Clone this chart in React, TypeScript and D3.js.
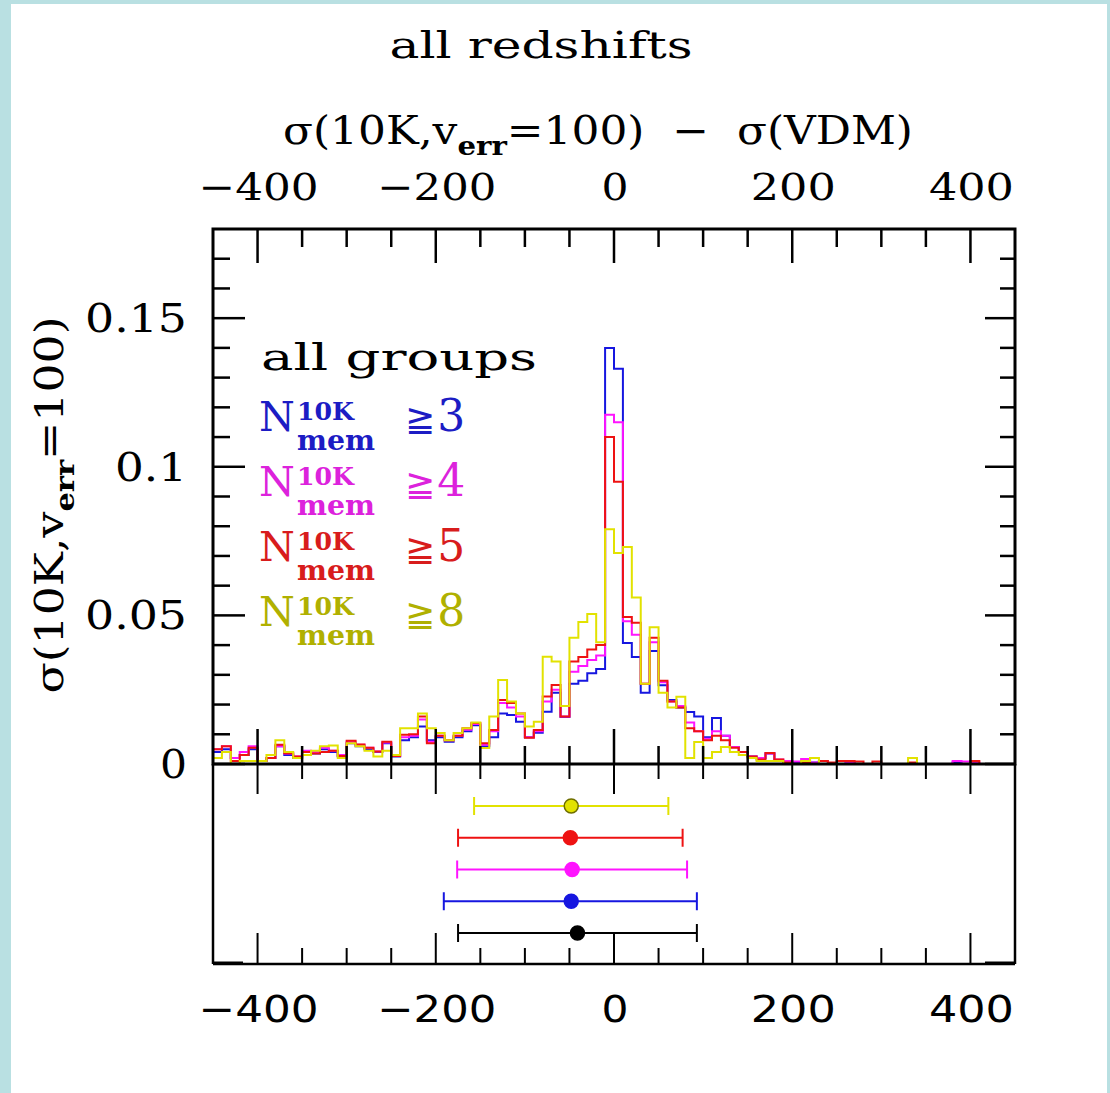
import React from 'react'
import * as d3 from 'd3'

// histogram bins, 10 km/s wide, from -450 to 450
const binLo = d3.range(-450, 450, 10)

const nGe3 = [
  .004, .005, .002, .003, .005, .001, .002, .006, .003, .002,
  .004, .0035, .005, .004, .0025, .007, .006, .005, .004, .007,
  .0025, .008, .009, .0126, .008, .009, .0075, .009, .011, .013,
  .006, .009, .017, .0165, .0142, .009, .0105, .0176, .024, .0158,
  .027, .028, .0305, .032, .140, .133, .0407, .036, .024, .038,
  .0265, .0215, .019, .0175, .016, .009, .0155, .0095, .0057, .004,
  .0025, .002, .0035, .001, .0008, .0005, .001, .0005, .001, 0,
  0, .0005, 0, 0, 0, 0, 0, 0, 0, 0,
  0, 0, 0, .0005, 0, 0, 0, 0, 0, 0,
]
const nGe4 = [
  .005, .006, .002, .004, .006, .001, .002, .006, .0035, .0025,
  .0045, .004, .0055, .0045, .003, .0075, .0065, .0055, .0042, .0072,
  .0027, .009, .0095, .015, .0075, .0095, .008, .0095, .0115, .0135,
  .0065, .011, .0205, .019, .016, .009, .011, .021, .025, .016,
  .031, .033, .035, .0365, .1175, .115, .048, .0435, .027, .041,
  .0275, .021, .0195, .014, .011, .0085, .011, .0095, .0057, .004,
  .0025, .002, .0035, .0015, .001, .0008, .0017, .0005, .001, 0,
  0, .0005, 0, 0, 0, 0, 0, 0, 0, 0,
  0, 0, 0, .001, .0008, .0005, 0, 0, 0, 0,
]
const nGe5 = [
  .005, .006, .001, .003, .0055, .001, .002, .0065, .0036, .0025,
  .004, .0035, .004, .0045, .0027, .0078, .0066, .0055, .0042, .0075,
  .0027, .0098, .010, .016, .007, .0095, .008, .0095, .012, .0138,
  .007, .0114, .0215, .0205, .017, .0088, .0114, .0227, .0266, .016,
  .0345, .036, .0385, .040, .110, .095, .0495, .0475, .027, .0425,
  .028, .021, .019, .012, .011, .008, .0095, .008, .0055, .004,
  .0025, .0015, .0037, .0015, .0005, 0, .0005, 0, .001, .0005,
  .001, .001, .0008, 0, .0008, 0, 0, 0, .0005, 0,
  0, 0, 0, 0, 0, .001, 0, 0, 0, 0,
]
const nGe8 = [
  .002, .004, 0, .001, .001, .001, .003, .008, .004, .002,
  .003, .0045, .006, .0062, .002, .007, .006, .0045, .0025, .0045,
  .003, .012, .012, .017, .012, .0104, .008, .0104, .012, .014,
  .0054, .016, .0283, .021, .017, .0126, .0142, .0361, .0345, .0195,
  .0425, .0478, .0505, .041, .079, .071, .073, .056, .027, .046,
  .024, .019, .0226, .002, .0074, .002, .004, .0057, .004, .003,
  .002, .001, .001, .001, 0, 0, .001, .002, 0, 0,
  0, 0, 0, 0, 0, 0, 0, 0, .002, 0,
  0, 0, 0, 0, 0, 0, 0, 0, 0, 0,
]

const thresholds = ['3', '4', '5', '8']

// lower panel: mean and spread of each sample
const ebLabels = ['8', '5', '4', '3', 'all']
const ebCenter = [-48, -49, -47, -48, -41]
const ebLow = [-157, -175, -176, -191, -175]
const ebHigh = [61, 77, 82, 93, 93]

const xMajor = [-400, -200, 0, 200, 400]
const xTickLabels = ['\u2212400', '\u2212200', '0', '200', '400']
const yMajor = [0, 0.05, 0.1, 0.15]
const yTickLabels = ['0', '0.05', '0.1', '0.15']

const lineColor: Record<string, string> = {
  '3': '#1616e0', '4': '#ff14ff', '5': '#ee1212', '8': '#e2e200', all: '#000',
}
const textColor: Record<string, string> = {
  '3': '#1c1cc4', '4': '#dc22dc', '5': '#d81c1c', '8': '#b0b000',
}
const labelWidth: Record<string, number> = {
  '\u2212400': 120, '\u2212200': 119, '0': 27, '200': 85, '400': 85,
  '0.05': 102, '0.1': 72, '0.15': 102,
}

const serif = "'DejaVu Serif', serif"
const sans = "'DejaVu Sans', sans-serif"

const x = d3.scaleLinear().domain([-450, 450]).range([213, 1015])
const y = d3.scaleLinear().domain([0, 0.18]).range([764, 229])
const yLow = d3.scalePoint().domain(ebLabels).range([806, 933])

const xMinor = d3.range(-400, 401, 50).filter(v => !xMajor.includes(v))
const yMinor = d3.range(1, 18).map(v => v / 100).filter(v => v % 0.05 > 0.001 && v % 0.05 < 0.049)

const step = d3.line<[number, number]>()
  .curve(d3.curveStepAfter)
  .x(d => x(d[0]))
  .y(d => y(d[1]))

function histPath(values: number[]) {
  const pts: [number, number][] = binLo.map((b, i) => [b, values[i]])
  pts.push([450, values[values.length - 1]])
  return step(pts) || ''
}

const series = [
  { key: '3', values: nGe3 },
  { key: '4', values: nGe4 },
  { key: '5', values: nGe5 },
  { key: '8', values: nGe8 },
]

const fit = 'spacingAndGlyphs'
const gap = '\u00a0\u00a0'

export default function App() {
  const top = y.range()[1]
  const zero = y(0)
  const low = 964
  const left = x.range()[0]
  const right = x.range()[1]

  return (
    <svg width={1110} height={1093} style={{ position: 'absolute', left: 0, top: 0 }}>
      <rect x={0} y={0} width={1110} height={1093} fill="#b9e0e2" />
      <rect x={11} y={4} width={1096} height={1089} fill="#fff" />

      {/* titles */}
      <text x={541} y={58} fontFamily={serif} fontSize={38} textAnchor="middle"
        textLength={303} lengthAdjust={fit}>all redshifts</text>
      <text x={598} y={144} fontFamily={serif} fontSize={39} textAnchor="middle"
        textLength={630} lengthAdjust={fit}>
        σ(10K,v<tspan fontSize={26} fontWeight="bold" dy={11}>err</tspan>
        <tspan dy={-11}>{'=100)' + gap + '\u2212' + gap + 'σ(VDM)'}</tspan>
      </text>
      <text transform="translate(63,505) rotate(-90)" fontFamily={serif} fontSize={39}
        textAnchor="middle" textLength={377} lengthAdjust={fit}>
        σ(10K,v<tspan fontSize={26} fontWeight="bold" dy={11}>err</tspan>
        <tspan dy={-11}>=100)</tspan>
      </text>

      {/* histograms */}
      <g fill="none" strokeWidth={2}>
        {series.map(s => (
          <path key={s.key} d={histPath(s.values)} stroke={lineColor[s.key]} />
        ))}
      </g>

      {/* main panel frame and ticks */}
      <g stroke="#000" strokeWidth={2.5}>
        {xMajor.map(v => <line key={'tM' + v} x1={x(v)} x2={x(v)} y1={top} y2={top + 34} />)}
        {xMinor.map(v => <line key={'tm' + v} x1={x(v)} x2={x(v)} y1={top} y2={top + 18} />)}
        {xMajor.map(v => <line key={'bM' + v} x1={x(v)} x2={x(v)} y1={zero} y2={zero - 35} />)}
        {xMinor.map(v => <line key={'bm' + v} x1={x(v)} x2={x(v)} y1={zero} y2={zero - 18} />)}
        {yMajor.map(v => <line key={'lM' + v} x1={left} x2={left + 32} y1={y(v)} y2={y(v)} />)}
        {yMinor.map(v => <line key={'lm' + v} x1={left} x2={left + 17} y1={y(v)} y2={y(v)} />)}
        {yMajor.map(v => <line key={'rM' + v} x1={right} x2={right - 30} y1={y(v)} y2={y(v)} />)}
        {yMinor.map(v => <line key={'rm' + v} x1={right} x2={right - 15} y1={y(v)} y2={y(v)} />)}
        <rect x={left} y={top} width={right - left} height={zero - top} fill="none" strokeWidth={3} />
      </g>

      {/* lower panel frame and ticks */}
      <g stroke="#000" strokeWidth={2}>
        {xMajor.map(v => <line key={'ltM' + v} x1={x(v)} x2={x(v)} y1={zero} y2={zero + 30} />)}
        {xMinor.map(v => <line key={'ltm' + v} x1={x(v)} x2={x(v)} y1={zero} y2={zero + 15} />)}
        {xMajor.map(v => <line key={'lbM' + v} x1={x(v)} x2={x(v)} y1={low} y2={low - 31} />)}
        {xMinor.map(v => <line key={'lbm' + v} x1={x(v)} x2={x(v)} y1={low} y2={low - 16} />)}
        <line x1={left} x2={left} y1={zero} y2={low} strokeWidth={2.5} />
        <line x1={right} x2={right} y1={zero} y2={low} strokeWidth={2.5} />
        <line x1={left} x2={right} y1={low} y2={low} strokeWidth={2.5} />
        <line x1={left} x2={left + 30} y1={low - 1} y2={low - 1} strokeWidth={3} />
        <line x1={right - 30} x2={right} y1={low - 1} y2={low - 1} strokeWidth={3} />
      </g>

      {/* error bars */}
      {ebLabels.map((k, i) => {
        const yy = yLow(k) as number
        const c = lineColor[k]
        return (
          <g key={'eb' + k} stroke={c} strokeWidth={2}>
            <line x1={x(ebLow[i])} x2={x(ebHigh[i])} y1={yy} y2={yy} />
            <line x1={x(ebLow[i])} x2={x(ebLow[i])} y1={yy - 9} y2={yy + 9} />
            <line x1={x(ebHigh[i])} x2={x(ebHigh[i])} y1={yy - 9} y2={yy + 9} />
            <circle cx={x(ebCenter[i])} cy={yy} r={7}
              fill={c} stroke={k === '8' ? '#6e6e00' : c} strokeWidth={1.5} />
          </g>
        )
      })}

      {/* tick labels */}
      {xMajor.map((v, i) => (
        <text key={'tl' + v} x={x(v) + 1} y={200} fontFamily={serif} fontSize={38}
          textAnchor="middle" textLength={labelWidth[xTickLabels[i]]} lengthAdjust={fit}>
          {xTickLabels[i]}
        </text>
      ))}
      {xMajor.map((v, i) => (
        <text key={'bl' + v} x={x(v) + 1} y={1022} fontFamily={sans} fontSize={38}
          textAnchor="middle" textLength={labelWidth[xTickLabels[i]]} lengthAdjust={fit}>
          {xTickLabels[i]}
        </text>
      ))}
      {yMajor.map((v, i) => (
        <text key={'yl' + v} x={187} y={y(v) + 14} fontFamily={serif} fontSize={39}
          textAnchor="end" textLength={labelWidth[yTickLabels[i]]} lengthAdjust={fit}>
          {yTickLabels[i]}
        </text>
      ))}

      {/* legend */}
      <text x={261} y={370} fontFamily={serif} fontSize={38}
        textLength={276} lengthAdjust={fit}>all groups</text>
      {thresholds.map((t, i) => {
        const base = 431 + i * 65
        const c = textColor[t]
        return (
          <g key={'lg' + t} fill={c} fontFamily={serif}>
            <text x={259} y={base} fontSize={41}>N</text>
            <text x={297} y={base - 11} fontSize={24} fontWeight="bold"
              textLength={57} lengthAdjust={fit}>10K</text>
            <text x={297} y={base + 19} fontSize={27} fontWeight="bold"
              textLength={78} lengthAdjust={fit}>mem</text>
            <text x={405} y={base}>
              <tspan fontSize={36} fontFamily={sans}>{'\u2267'}</tspan>
              <tspan fontSize={44} dx={2}>{t}</tspan>
            </text>
          </g>
        )
      })}
    </svg>
  )
}
